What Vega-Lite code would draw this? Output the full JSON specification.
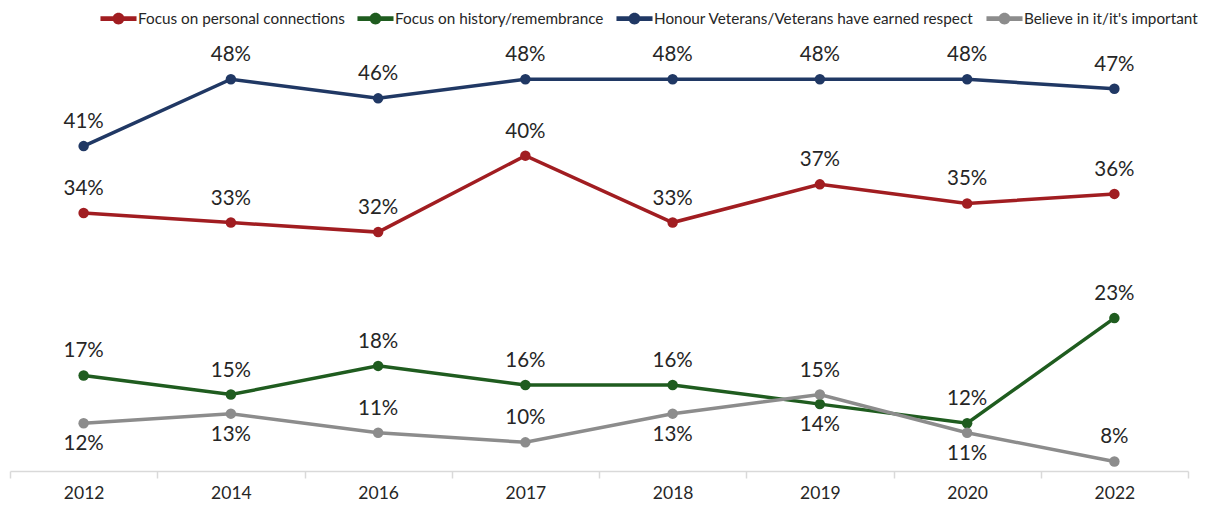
{
  "$schema": "https://vega.github.io/schema/vega-lite/v6.json",
  "width": 1178,
  "height": 430,
  "autosize": {"type": "none"},
  "padding": {"left": 10, "top": 41, "right": 32, "bottom": 39},
  "background": "white",
  "config": {
    "view": {"stroke": null},
    "font": "Lato",
    "legend": {"labelFont": "Lato"}
  },
  "data": {
    "values": [
      {"series": "Focus on personal connections", "year": "2012", "value": 34},
      {"series": "Focus on personal connections", "year": "2014", "value": 33},
      {"series": "Focus on personal connections", "year": "2016", "value": 32},
      {"series": "Focus on personal connections", "year": "2017", "value": 40},
      {"series": "Focus on personal connections", "year": "2018", "value": 33},
      {"series": "Focus on personal connections", "year": "2019", "value": 37},
      {"series": "Focus on personal connections", "year": "2020", "value": 35},
      {"series": "Focus on personal connections", "year": "2022", "value": 36},
      {"series": "Focus on history/remembrance", "year": "2012", "value": 17},
      {"series": "Focus on history/remembrance", "year": "2014", "value": 15},
      {"series": "Focus on history/remembrance", "year": "2016", "value": 18},
      {"series": "Focus on history/remembrance", "year": "2017", "value": 16},
      {"series": "Focus on history/remembrance", "year": "2018", "value": 16},
      {"series": "Focus on history/remembrance", "year": "2019", "value": 14},
      {"series": "Focus on history/remembrance", "year": "2020", "value": 12},
      {"series": "Focus on history/remembrance", "year": "2022", "value": 23},
      {"series": "Honour Veterans/Veterans have earned respect", "year": "2012", "value": 41},
      {"series": "Honour Veterans/Veterans have earned respect", "year": "2014", "value": 48},
      {"series": "Honour Veterans/Veterans have earned respect", "year": "2016", "value": 46},
      {"series": "Honour Veterans/Veterans have earned respect", "year": "2017", "value": 48},
      {"series": "Honour Veterans/Veterans have earned respect", "year": "2018", "value": 48},
      {"series": "Honour Veterans/Veterans have earned respect", "year": "2019", "value": 48},
      {"series": "Honour Veterans/Veterans have earned respect", "year": "2020", "value": 48},
      {"series": "Honour Veterans/Veterans have earned respect", "year": "2022", "value": 47},
      {"series": "Believe in it/it's important", "year": "2012", "value": 12},
      {"series": "Believe in it/it's important", "year": "2014", "value": 13},
      {"series": "Believe in it/it's important", "year": "2016", "value": 11},
      {"series": "Believe in it/it's important", "year": "2017", "value": 10},
      {"series": "Believe in it/it's important", "year": "2018", "value": 13},
      {"series": "Believe in it/it's important", "year": "2019", "value": 15},
      {"series": "Believe in it/it's important", "year": "2020", "value": 11},
      {"series": "Believe in it/it's important", "year": "2022", "value": 8}
    ]
  },
  "encoding": {
    "x": {
      "field": "year", "type": "ordinal", "bandPosition": 0.5,
      "scale": {"type": "band", "paddingInner": 0, "paddingOuter": 0},
      "axis": {
        "title": null, "labelAngle": 0, "bandPosition": 0, "tickBand": "extent",
        "domainColor": "#D9D9D9", "tickColor": "#D9D9D9", "tickSize": 7, "domainWidth": 1.5, "tickWidth": 1.5,
        "labelFont": "Lato", "labelFontSize": 17.5, "labelFontWeight": "normal", "labelColor": "#262626", "labelPadding": 6, "grid": false
      }
    },
    "y": {
      "field": "value", "type": "quantitative",
      "scale": {"domain": [7, 52], "zero": false, "nice": false},
      "axis": null
    },
    "color": {
      "field": "series", "type": "nominal",
      "scale": {
        "domain": ["Focus on personal connections", "Focus on history/remembrance", "Honour Veterans/Veterans have earned respect", "Believe in it/it's important"],
        "range": ["#A11D21", "#1F5C1F", "#203864", "#8C8C8C"]
      },
      "legend": {
        "title": null, "orient": "none", "direction": "horizontal", "legendX": 90, "legendY": -41,
        "symbolType": "M-1,-0.13 H1 V0.13 H-1 Z M0.33,0 A0.33,0.33 0 1,1 -0.33,0 A0.33,0.33 0 1,1 0.33,0 Z",
        "symbolSize": 1300, "symbolStrokeWidth": 0, "symbolOpacity": 1, "labelLimit": 0,
        "labelFontSize": 15.3, "labelColor": "#262626", "labelOffset": 1, "columnPadding": 12,
        "encode": {"symbols": {"update": {"fill": {"scale": "color", "field": "value"}, "stroke": {"value": "transparent"}}}}
      }
    }
  },
  "layer": [
    {"mark": {"type": "line", "strokeWidth": 3.5}},
    {"mark": {"type": "point", "filled": true, "size": 110, "opacity": 1}},
    {
      "transform": [
        {"filter": "indexof(['Believe in it/it\\'s important|2012','Believe in it/it\\'s important|2014','Believe in it/it\\'s important|2018','Believe in it/it\\'s important|2020','Focus on history/remembrance|2019'], datum.series + '|' + datum.year) < 0"},
        {"calculate": "datum.value + '%'", "as": "label"}
      ],
      "mark": {"type": "text", "dy": -24, "fontSize": 20.5, "color": "#262626", "font": "Lato"},
      "encoding": {"text": {"field": "label", "type": "nominal"}, "color": {"value": "#262626"}}
    },
    {
      "transform": [
        {"filter": "indexof(['Believe in it/it\\'s important|2012','Believe in it/it\\'s important|2014','Believe in it/it\\'s important|2018','Believe in it/it\\'s important|2020','Focus on history/remembrance|2019'], datum.series + '|' + datum.year) >= 0"},
        {"calculate": "datum.value + '%'", "as": "label"}
      ],
      "mark": {"type": "text", "dy": 21, "fontSize": 20.5, "color": "#262626", "font": "Lato"},
      "encoding": {"text": {"field": "label", "type": "nominal"}, "color": {"value": "#262626"}}
    }
  ]
}
